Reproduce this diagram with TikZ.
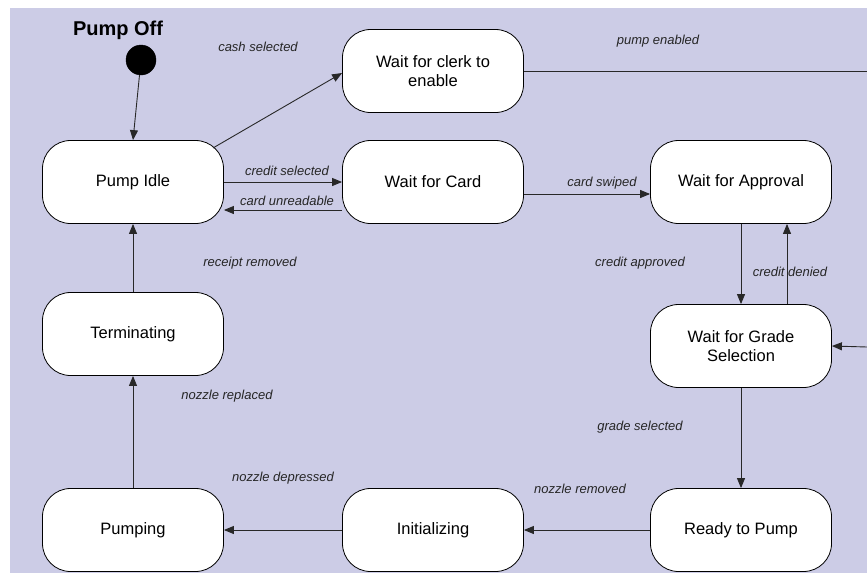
\documentclass[tikz,border=0pt]{standalone}
\usepackage{fontspec}
\setmainfont{Liberation Sans}
\usetikzlibrary{arrows.meta,calc}
\definecolor{canvasbg}{RGB}{204,204,230}
\definecolor{edgeclr}{RGB}{40,40,40}
\tikzset{
  state/.style={draw=black, fill=white, rounded corners=28pt, line width=0.8pt,
    minimum width=181pt, minimum height=83pt, align=center,
    font=\fontsize{16.5}{19}\selectfont},
  trans/.style={draw=edgeclr, line width=0.9pt, -{Triangle[length=10pt,width=8pt]}},
  plain/.style={draw=edgeclr, line width=0.9pt},
  lbl/.style={font=\fontsize{13}{15}\selectfont\itshape, text=black!85, inner sep=0pt},
}
\begin{document}
\begin{tikzpicture}[x=1pt,y=-1pt]
\useasboundingbox (0,0) rectangle (867,573);
\fill[canvasbg] (10,8) rectangle (867,573);

% initial pseudo-state
\node[circle, fill=black, draw=black, minimum size=30pt, inner sep=0pt] (start) at (141,60) {};
\node[font=\fontsize{20}{22}\selectfont\bfseries] (title) at (118,30) {Pump Off};

% states
\node[state] (idle)  at (133,182) {Pump Idle};
\node[state] (clerk) at (433,71)  {Wait for clerk to\\enable};
\node[state] (card)  at (433,182) {Wait for Card};
\node[state] (appr)  at (741,182) {Wait for Approval};
\node[state] (grade) at (741,346) {Wait for Grade\\Selection};
\node[state] (term)  at (133,334) {Terminating};
\node[state] (pump)  at (133,530) {Pumping};
\node[state] (init)  at (433,530) {Initializing};
\node[state] (ready) at (741,530) {Ready to Pump};

% loose ends at the right border
\coordinate (outA) at (867,71);
\coordinate (inB)  at (867,347);

% transitions
\draw[trans] (start) -- (idle.north);
\draw[trans] ($(idle.center)+(80,-34)$) -- ($(clerk.west)+(0,2)$);
\draw[plain] (clerk.east) -- (outA);
\draw[trans] (inB) -- (grade.east);
\draw[trans] (idle.east) -- (card.west);
\draw[trans] ($(card.west)+(0,28)$) -- ($(idle.east)+(0,28)$);
\draw[trans] ($(card.east)+(0,12)$) -- ($(appr.west)+(0,12)$);
\draw[trans] (appr.south) -- (grade.north);
\draw[trans] ($(grade.north)+(46,0)$) -- ($(appr.south)+(46,0)$);
\draw[trans] (grade.south) -- (ready.north);
\draw[trans] (ready.west) -- (init.east);
\draw[trans] (init.west) -- (pump.east);
\draw[trans] (pump.north) -- (term.south);
\draw[trans] (term.north) -- (idle.south);

% transition labels
\node[lbl] (l1)  at (258,47)  {cash selected};
\node[lbl] (l2)  at (658,41)  {pump enabled};
\node[lbl] (l3)  at (287,171) {credit selected};
\node[lbl] (l4)  at (287,201) {card unreadable};
\node[lbl] (l5)  at (602,183) {card swiped};
\node[lbl] (l6)  at (640,263) {credit approved};
\node[lbl] (l7)  at (790,272) {credit denied};
\node[lbl] (l8)  at (640,427) {grade selected};
\node[lbl] (l9)  at (580,489) {nozzle removed};
\node[lbl] (l10) at (283,478) {nozzle depressed};
\node[lbl] (l11) at (227,396) {nozzle replaced};
\node[lbl] (l12) at (250,263) {receipt removed};
\end{tikzpicture}
\end{document}
